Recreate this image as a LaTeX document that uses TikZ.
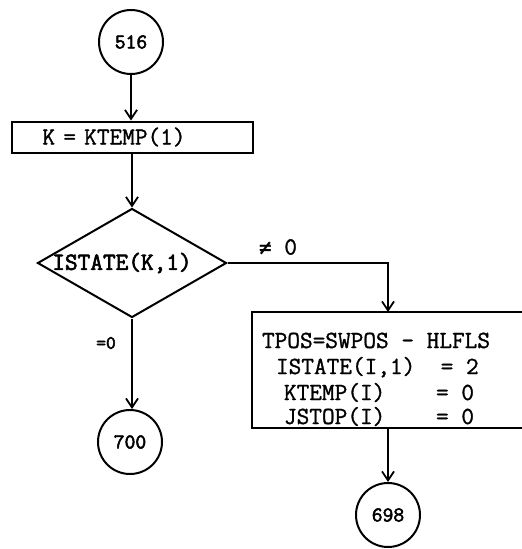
\documentclass[tikz,border=0pt]{standalone}
\usepackage{fontspec}
\newfontfamily\tw[FakeBold=1.2]{Latin Modern Mono}
\newfontfamily\twb[FakeBold=2.5]{Latin Modern Mono}
\newfontfamily\symfont[FakeBold=1]{DejaVu Sans Mono}
\usetikzlibrary{shapes.geometric,arrows.meta}
\begin{document}
\begin{tikzpicture}[x=1pt,y=-1pt,
  line width=2pt,
  every node/.style={font=\tw\fontsize{24.6}{26}\selectfont},
  conn/.style={line width=2pt,-{Straight Barb[length=9pt,width=12pt,line width=1.8pt]}},
  plain/.style={line width=2pt},
  term/.style={circle,draw,line width=2pt,minimum size=64pt,inner sep=0pt,font=\twb\fontsize{21}{22}\selectfont},
  procbox/.style={rectangle,draw,line width=2pt,inner ysep=0pt,minimum height=31pt,align=left},
  decis/.style={diamond,draw,line width=2pt,inner sep=0pt,minimum width=189pt,minimum height=109pt},
  area/.style={rectangle,inner sep=0pt},
  lbl/.style={inner sep=0pt,anchor=base west},
]
\fill[white] (0,0) rectangle (522,549);
\useasboundingbox (0,0) rectangle (522,549);

\node[term] (c516) at (131,42) {516};
\node[procbox,text width=179pt,inner xsep=31pt] (b1) at (132,137) {K = KTEMP(1)};
\node[decis] (d) at (132,263) {};
\node[inner sep=0pt,font=\twb\fontsize{24.6}{26}\selectfont] (dt) at (122,263) {ISTATE(K,1)};
\node[term] (c700) at (130,442) {700};

\node[area,minimum width=270pt,minimum height=114pt] (b2) at (388,370) {};
\draw[plain] (b2.north east) -- (b2.north west) -- (b2.south west) -- (b2.south east);
\node[lbl] (l1) at (261,348) {TPOS=SWPOS - HLFLS};
\node[lbl] (l2) at (275,374) {ISTATE(I,1)~~=~2};
\node[lbl] (l3) at (283,400) {KTEMP(I)~~~~=~0};
\node[lbl] (l4) at (283,424) {JSTOP(I)~~~~=~0};
\node[term] (c698) at (388,515) {698};

\node[inner sep=0pt,font=\twb\fontsize{19}{20}\selectfont] (eq0) at (106,343) {=0};
\node[inner sep=0pt,font=\tw\fontsize{24.6}{26}\selectfont] (ne0) at (278,247) {{\symfont\fontsize{21}{24}\selectfont ≠}~0};

\draw[conn] (c516.south) -- (c516.south |- b1.north);
\draw[conn] (b1.south) -- (b1.south |- d.north);
\draw[conn] (d.south) -- (d.south |- c700.north);
\draw[conn] (d.east) -| (b2.north);
\draw[conn] (b2.south) -- (c698.north);
\end{tikzpicture}
\end{document}
